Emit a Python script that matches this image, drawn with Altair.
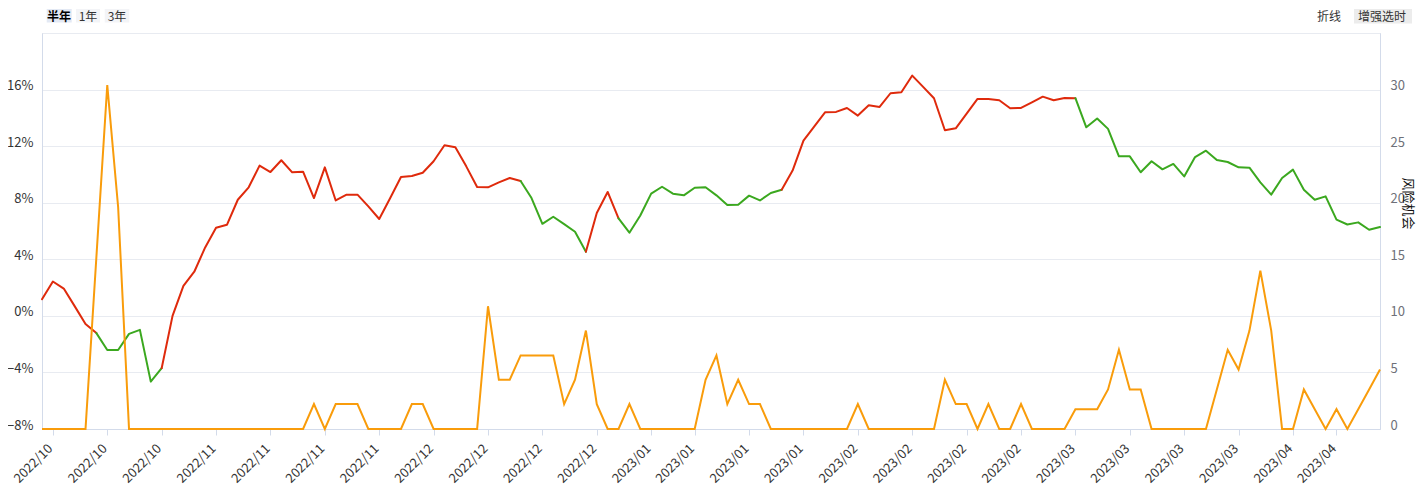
import altair as alt
import pandas as pd

# ---------------- data ----------------
tick_idx = [1, 6, 11, 16, 21, 26, 31, 36, 41, 46, 51, 56, 60, 65, 70, 75, 80, 85, 90, 95, 100, 105, 110, 115, 119]
tick_labels = ["2022/10", "2022/10", "2022/10",
               "2022/11", "2022/11", "2022/11", "2022/11",
               "2022/12", "2022/12", "2022/12", "2022/12",
               "2023/01", "2023/01", "2023/01", "2023/01",
               "2023/02", "2023/02", "2023/02", "2023/02",
               "2023/03", "2023/03", "2023/03", "2023/03",
               "2023/04", "2023/04"]

# 收益率 (%) - left axis
pct = [1.18, 2.43, 1.93, 0.69, -0.57, -1.22, -2.41, -2.41, -1.27, -0.99,
       -4.65, -3.70, 0.00, 2.12, 3.12, 4.84, 6.23, 6.44, 8.21, 9.09,
       10.62, 10.17, 11.00, 10.15, 10.19, 8.33, 10.50, 8.16, 8.57, 8.57,
       7.74, 6.85, 8.31, 9.82, 9.89, 10.12, 10.93, 12.06, 11.92, 10.57,
       9.11, 9.09, 9.44, 9.75, 9.53, 8.33, 6.51, 7.01, 6.49, 5.95,
       4.53, 7.27, 8.76, 6.89, 5.88, 7.10, 8.64, 9.13, 8.64, 8.52,
       9.06, 9.09, 8.52, 7.84, 7.86, 8.50, 8.16, 8.69, 8.92, 10.27,
       12.39, 13.40, 14.40, 14.42, 14.70, 14.16, 14.89, 14.77, 15.74, 15.81,
       16.99, 16.19, 15.39, 13.12, 13.26, 14.30, 15.34, 15.34, 15.25, 14.68,
       14.70, 15.10, 15.50, 15.25, 15.41, 15.39, 13.33, 13.95, 13.22, 11.28,
       11.28, 10.15, 10.93, 10.36, 10.74, 9.86, 11.23, 11.68, 11.02, 10.88,
       10.50, 10.48, 9.44, 8.57, 9.75, 10.34, 8.92, 8.21, 8.45, 6.80,
       6.46, 6.61, 6.09, 6.28]

# 风险机会 - right axis
risk = [0, 0, 0, 0, 0, 15.2, 30.4, 19.6, 0, 0,
        0, 0, 0, 0, 0, 0, 0, 0, 0, 0,
        0, 0, 0, 0, 0, 2.2, 0, 2.2, 2.2, 2.2,
        0, 0, 0, 0, 2.2, 2.2, 0, 0, 0, 0,
        0, 10.85, 4.35, 4.35, 6.5, 6.5, 6.5, 6.5, 2.2, 4.35,
        8.7, 2.2, 0, 0, 2.2, 0, 0, 0, 0, 0,
        0, 4.35, 6.5, 2.2, 4.35, 2.2, 2.2, 0, 0, 0,
        0, 0, 0, 0, 0, 2.2, 0, 0, 0, 0,
        0, 0, 0, 4.35, 2.2, 2.2, 0, 2.2, 0, 0,
        2.2, 0, 0, 0, 0, 1.75, 1.75, 1.75, 3.5, 7.0,
        3.5, 3.5, 0, 0, 0, 0, 0, 0, 3.5, 7.0,
        5.25, 8.7, 14.0, 8.7, 0, 0, 3.5, 1.75, 0, 1.75,
        0, 1.75, 3.5, 5.25]

# trend runs of the main line (segment colouring)
run_starts = [0, 5, 11, 44, 50, 53, 68, 95]
run_ends = [5, 11, 44, 50, 53, 68, 95, 123]
run_trend = ["涨", "跌", "涨", "跌", "涨", "跌", "涨", "跌"]

left_ticks = [-8, -4, 0, 4, 8, 12, 16, 20]
right_ticks = [0, 5, 10, 15, 20, 25, 30]

# ---------------- build tables ----------------
rows = []
for r, (s, e, t) in enumerate(zip(run_starts, run_ends, run_trend)):
    for i in range(s, e + 1):
        rows.append({"idx": i, "pct": pct[i], "run": r, "trend": t})
main_df = pd.DataFrame(rows)
risk_df = pd.DataFrame({"idx": list(range(len(risk))), "risk": risk})

RED = "#df2a0c"
GREEN = "#3ba81f"
ORANGE = "#f99c0b"
AXIS_LINE = "#d3dbea"
GRID = "#e8ebf1"
FONT = "Noto Sans CJK SC"

lab_js = "[" + ",".join("'%s'" % l for l in tick_labels) + "]"
pos_js = "[" + ",".join(str(i) for i in tick_idx) + "]"

x_axis = alt.Axis(values=tick_idx, labelExpr=f"{lab_js}[indexof({pos_js}, datum.value)]",
                  labelAngle=-45, labelAlign="right", labelBaseline="alphabetic", labelPadding=14,
                  labelFontSize=13, labelColor="#333333", labelFont=FONT,
                  grid=False, ticks=True, tickSize=6, tickColor=AXIS_LINE,
                  domainColor=AXIS_LINE, title=None, labelOverlap=False)

x_enc = alt.X("idx:Q", scale=alt.Scale(domain=[0, len(pct) - 1], nice=False, zero=False), axis=x_axis)

left_axis = alt.Axis(values=left_ticks,
                     labelExpr="datum.value == 20 ? '' : format(datum.value, 'd') + '%'",
                     grid=True, gridColor=GRID, gridWidth=1, ticks=False,
                     domainColor=AXIS_LINE, labelPadding=9, labelFontSize=13,
                     labelColor="#333333", labelBaseline="alphabetic", labelFont=FONT, title=None)

right_axis = alt.Axis(orient="right", values=right_ticks, grid=False, ticks=False,
                      domainColor=AXIS_LINE, labelPadding=10, labelFontSize=13,
                      labelColor="#6e7079", labelBaseline="alphabetic", labelFont=FONT,
                      title="风险机会", titleAngle=90, titleFontSize=13, titleFontWeight="normal",
                      titleColor="#111111", titleFont=FONT, titleX=27, titleY=170,
                      titleAlign="center", titleBaseline="middle")

main = alt.Chart(main_df).mark_line(strokeWidth=2, strokeJoin="round", strokeCap="round").encode(
    x=x_enc,
    y=alt.Y("pct:Q", scale=alt.Scale(domain=[-8, 20], nice=False, zero=False), axis=left_axis),
    color=alt.Color("trend:N", scale=alt.Scale(domain=["涨", "跌"], range=[RED, GREEN]), legend=None),
    detail="run:N",
    order="idx:Q",
)

risk_line = alt.Chart(risk_df).mark_line(strokeWidth=2, color=ORANGE, strokeJoin="miter").encode(
    x=x_enc,
    y=alt.Y("risk:Q", scale=alt.Scale(domain=[0, 35], nice=False, zero=False), axis=right_axis),
)

# ---------------- header buttons (decoration) ----------------
one = pd.DataFrame({"_": [0]})


def box(x0, x1, y0, y1, fill):
    return alt.Chart(one).mark_rect(color=fill).encode(
        x=alt.value(x0), x2=alt.value(x1), y=alt.value(y0), y2=alt.value(y1))


def label(txt, xc, yc, bold=False, color="#333333"):
    return alt.Chart(one).mark_text(text=txt, fontSize=12, font=FONT, align="center", baseline="middle",
                                    fontWeight="bold" if bold else "normal", color=color).encode(
        x=alt.value(xc), y=alt.value(yc))


deco = [
    box(4.7, 29.7, -24, -10.5, "#e3e9f4"), label("半年", 17, -16.5, bold=True, color="#000000"),
    box(34, 58, -24, -10.5, "#f3f4f7"), label("1年", 46, -16.5),
    box(62.7, 87.3, -24, -10.5, "#f3f4f7"), label("3年", 75, -16.5),
    label("折线", 1287, -16.5),
    box(1312, 1370, -24, -9.5, "#ececec"), label("增强选时", 1340, -16.5),
]

chart = alt.layer(main, risk_line, *deco).resolve_scale(y="independent").properties(
    width=1338, height=396,
    padding={"left": 34, "top": 25, "right": 39, "bottom": 62},
    autosize=alt.AutoSizeParams(type="none"),
).configure_view(stroke=None).configure(font=FONT, background="white")

chart.save("out.html", embed_options={"renderer": "svg", "actions": False})
